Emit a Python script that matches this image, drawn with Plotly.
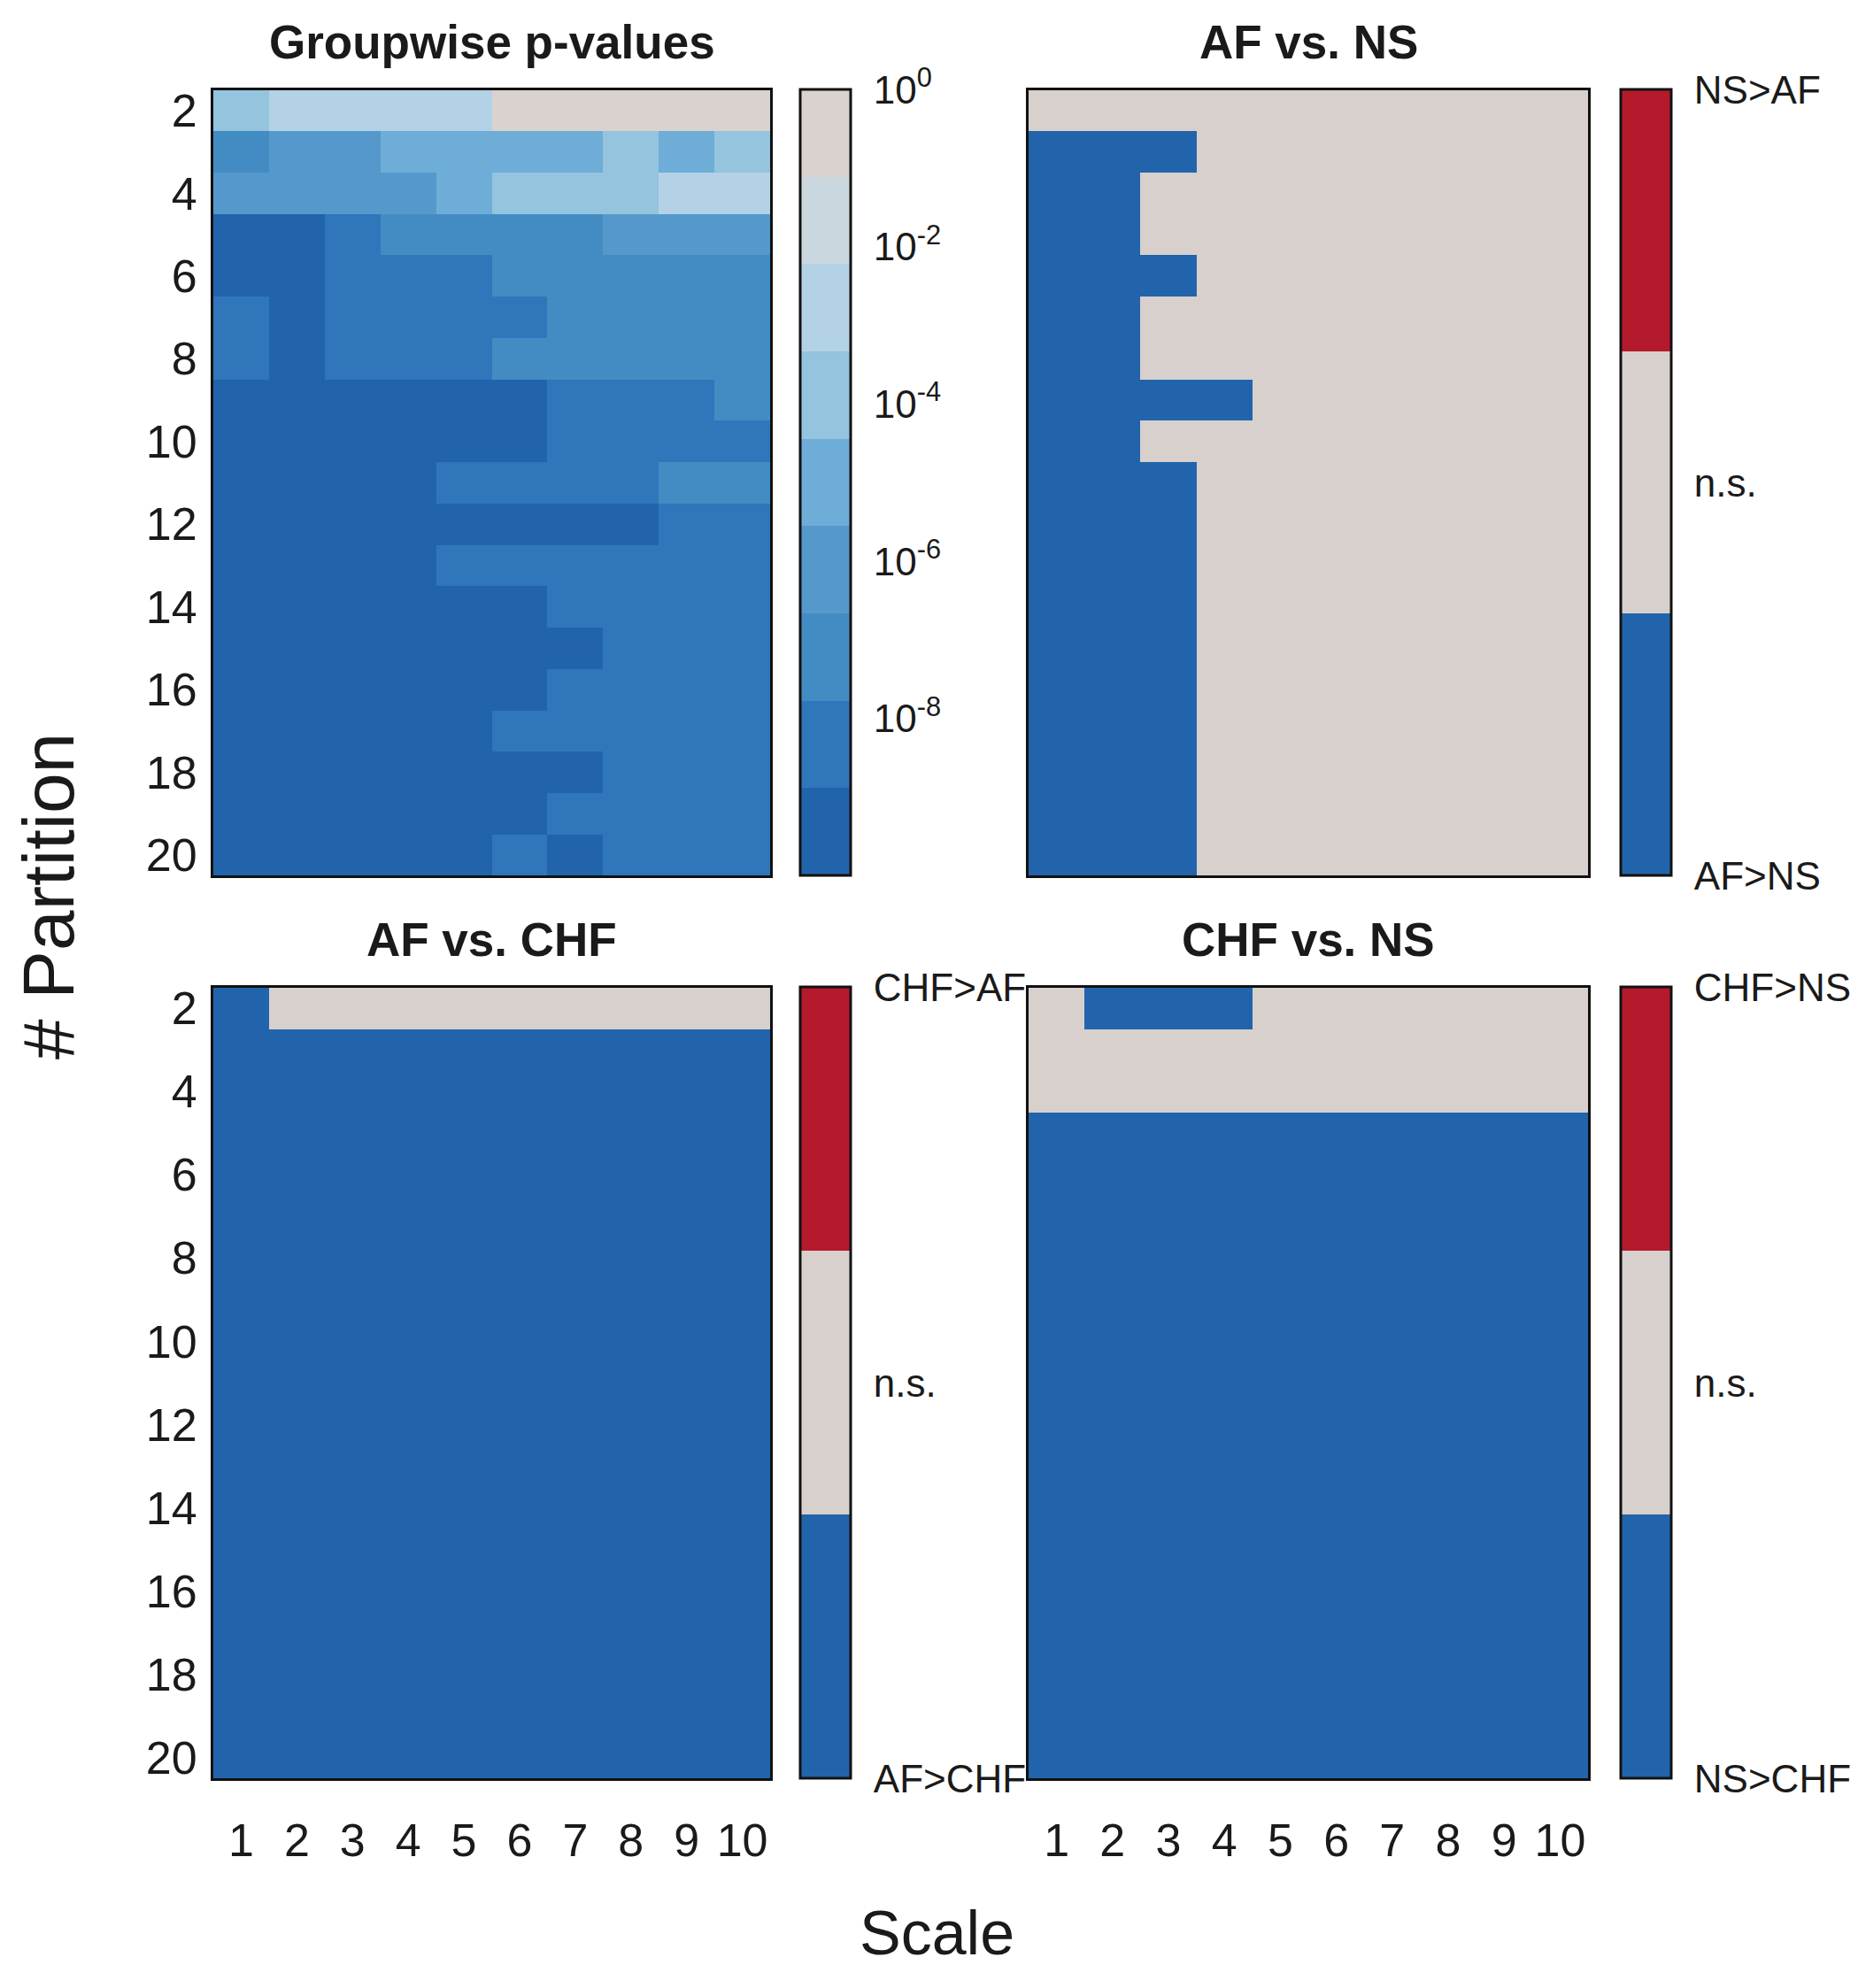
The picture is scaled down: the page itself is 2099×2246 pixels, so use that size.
import plotly.graph_objects as go

W, H = 2099, 2246
FONT = "Liberation Sans, Arial, Helvetica, sans-serif"

scales = list(range(1, 11))
partitions = list(range(2, 21))

# log10 of groupwise p-values, rows = partitions 2..20
groupwise_log10p = [
    [-3.9, -2.8, -2.8, -2.8, -2.8, -0.5, -0.5, -0.5, -0.5, -0.5],
    [-7.2, -6.1, -6.1, -5.0, -5.0, -5.0, -5.0, -3.9, -5.0, -3.9],
    [-6.1, -6.1, -6.1, -6.1, -5.0, -3.9, -3.9, -3.9, -2.8, -2.8],
    [-9.5, -9.5, -8.3, -7.2, -7.2, -7.2, -7.2, -6.1, -6.1, -6.1],
    [-9.5, -9.5, -8.3, -8.3, -8.3, -7.2, -7.2, -7.2, -7.2, -7.2],
    [-8.3, -9.5, -8.3, -8.3, -8.3, -8.3, -7.2, -7.2, -7.2, -7.2],
    [-8.3, -9.5, -8.3, -8.3, -8.3, -7.2, -7.2, -7.2, -7.2, -7.2],
    [-9.5, -9.5, -9.5, -9.5, -9.5, -9.5, -8.3, -8.3, -8.3, -7.2],
    [-9.5, -9.5, -9.5, -9.5, -9.5, -9.5, -8.3, -8.3, -8.3, -8.3],
    [-9.5, -9.5, -9.5, -9.5, -8.3, -8.3, -8.3, -8.3, -7.2, -7.2],
    [-9.5, -9.5, -9.5, -9.5, -9.5, -9.5, -9.5, -9.5, -8.3, -8.3],
    [-9.5, -9.5, -9.5, -9.5, -8.3, -8.3, -8.3, -8.3, -8.3, -8.3],
    [-9.5, -9.5, -9.5, -9.5, -9.5, -9.5, -8.3, -8.3, -8.3, -8.3],
    [-9.5, -9.5, -9.5, -9.5, -9.5, -9.5, -9.5, -8.3, -8.3, -8.3],
    [-9.5, -9.5, -9.5, -9.5, -9.5, -9.5, -8.3, -8.3, -8.3, -8.3],
    [-9.5, -9.5, -9.5, -9.5, -9.5, -8.3, -8.3, -8.3, -8.3, -8.3],
    [-9.5, -9.5, -9.5, -9.5, -9.5, -9.5, -9.5, -8.3, -8.3, -8.3],
    [-9.5, -9.5, -9.5, -9.5, -9.5, -9.5, -8.3, -8.3, -8.3, -8.3],
    [-9.5, -9.5, -9.5, -9.5, -9.5, -8.3, -9.5, -8.3, -8.3, -8.3],
]

# pairwise comparisons: -1 = first group larger (blue), 0 = n.s., 1 = second group larger (red)
af_vs_ns = [
    [0, 0, 0, 0, 0, 0, 0, 0, 0, 0],
    [-1, -1, -1, 0, 0, 0, 0, 0, 0, 0],
    [-1, -1, 0, 0, 0, 0, 0, 0, 0, 0],
    [-1, -1, 0, 0, 0, 0, 0, 0, 0, 0],
    [-1, -1, -1, 0, 0, 0, 0, 0, 0, 0],
    [-1, -1, 0, 0, 0, 0, 0, 0, 0, 0],
    [-1, -1, 0, 0, 0, 0, 0, 0, 0, 0],
    [-1, -1, -1, -1, 0, 0, 0, 0, 0, 0],
    [-1, -1, 0, 0, 0, 0, 0, 0, 0, 0],
] + [[-1, -1, -1, 0, 0, 0, 0, 0, 0, 0] for _ in range(10)]

af_vs_chf = [[-1, 0, 0, 0, 0, 0, 0, 0, 0, 0]] + [[-1] * 10 for _ in range(18)]

chf_vs_ns = [
    [0, -1, -1, -1, 0, 0, 0, 0, 0, 0],
    [0] * 10,
    [0] * 10,
] + [[-1] * 10 for _ in range(16)]

p_ticks = [0, -2, -4, -6, -8]
p_ticktext = ["10<sup>0</sup>", "10<sup>-2</sup>", "10<sup>-4</sup>", "10<sup>-6</sup>", "10<sup>-8</sup>"]

panel_titles = ["Groupwise p-values", "AF vs. NS", "AF vs. CHF", "CHF vs. NS"]
cb_labels = [None, ["NS>AF", "n.s.", "AF>NS"], ["CHF>AF", "n.s.", "AF>CHF"], ["CHF>NS", "n.s.", "NS>CHF"]]

# colours
p_colors = ["#2164ab", "#2f77ba", "#438cc3", "#5599cc", "#6eadd8",
            "#94c4de", "#b4d2e6", "#cbd7df", "#d9d2cf"]
BLUE, GRAY, RED = "#2164ab", "#d8d0cd", "#b41a2c"


def discrete(colors):
    n = len(colors)
    cs = []
    for i, c in enumerate(colors):
        cs.append([i / n, c])
        cs.append([(i + 1) / n, c])
    return cs


p_scale = discrete(p_colors)
cmp_scale = discrete([BLUE, GRAY, RED])

# layout geometry (pixels)
XL = (241, 870)
XR = (1162, 1794)
YT = (97, 989)
YB = (1116, 2014)
CBL = 904
CBR = 1831


def dx(a, b):
    return [a / W, b / W]


def dy(a, b):
    return [1 - b / H, 1 - a / H]


panels = [
    (XL, YT, CBL, groupwise_log10p),
    (XR, YT, CBR, af_vs_ns),
    (XL, YB, CBL, af_vs_chf),
    (XR, YB, CBR, chf_vs_ns),
]

fig = go.Figure()
layout = dict(
    width=W, height=H, autosize=False,
    margin=dict(l=0, r=0, t=0, b=0, pad=0),
    paper_bgcolor="white", plot_bgcolor="white",
    showlegend=False,
    annotations=[],
)

tickfont = dict(family=FONT, size=52, color="#1a1a1a")
cbfont = dict(family=FONT, size=44, color="#1a1a1a")

for i, (xr, yr, cbx, z) in enumerate(panels):
    k = i + 1
    xa = "x" if k == 1 else f"x{k}"
    ya = "y" if k == 1 else f"y{k}"
    cb = dict(
        x=cbx / W, xanchor="left",
        y=1 - (yr[0] + yr[1]) / 2 / H, yanchor="middle",
        len=(yr[1] - yr[0]) / H, lenmode="fraction",
        thickness=57, thicknessmode="pixels",
        outlinewidth=3, outlinecolor="#111111",
        xpad=0, ypad=0,
        ticks="outside", ticklen=16, tickcolor="rgba(0,0,0,0)",
        tickfont=cbfont,
    )
    if i == 0:
        cb.update(tickvals=p_ticks, ticktext=p_ticktext)
        tr = go.Heatmap(z=z, x=scales, y=partitions, colorscale=p_scale,
                        zmin=-10, zmax=0, colorbar=cb, xaxis=xa, yaxis=ya,
                        hoverinfo="skip")
    else:
        cb.update(tickvals=[1, 0, -1], ticktext=cb_labels[i])
        tr = go.Heatmap(z=z, x=scales, y=partitions, colorscale=cmp_scale,
                        zmin=-1, zmax=1, colorbar=cb, xaxis=xa, yaxis=ya,
                        hoverinfo="skip")
    fig.add_trace(tr)

    bottom = yr == YB
    left = xr == XL
    layout["xaxis" if k == 1 else f"xaxis{k}"] = dict(
        domain=dx(*xr), anchor=ya, range=[0.5, 10.5],
        tickvals=scales, showticklabels=bottom, ticks="",
        ticklabelstandoff=22,
        tickfont=tickfont, showgrid=False, zeroline=False,
        showline=True, mirror=True, linecolor="#111111", linewidth=3,
    )
    layout["yaxis" if k == 1 else f"yaxis{k}"] = dict(
        domain=dy(*yr), anchor=xa, range=[20.5, 1.5],
        tickvals=list(range(2, 21, 2)), showticklabels=left, ticks="",
        ticklabelstandoff=5,
        tickfont=tickfont, showgrid=False, zeroline=False,
        showline=True, mirror=True, linecolor="#111111", linewidth=3,
    )
    layout["annotations"].append(dict(
        text=f"<b>{panel_titles[i]}</b>", xref="paper", yref="paper",
        x=(xr[0] + xr[1]) / 2 / W, y=1 - (yr[0] - 54) / H,
        xanchor="center", yanchor="middle", showarrow=False,
        font=dict(family=FONT, size=53, color="#1a1a1a"),
    ))

layout["annotations"].append(dict(
    text="# Partition", xref="paper", yref="paper",
    x=54 / W, y=1 - 1013 / H, xanchor="center", yanchor="middle",
    textangle=-90, showarrow=False,
    font=dict(family=FONT, size=82, color="#1a1a1a"),
))
layout["annotations"].append(dict(
    text="Scale", xref="paper", yref="paper",
    x=1058 / W, y=1 - 2190 / H, xanchor="center", yanchor="middle",
    showarrow=False,
    font=dict(family=FONT, size=70, color="#1a1a1a"),
))

fig.update_layout(**layout)
fig.write_html(
    "out.html",
    config={"displayModeBar": False, "responsive": False},
    post_script=("document.documentElement.style.margin='0px';"
                 "document.body.style.margin='0px';"
                 "document.body.style.overflow='hidden';"
                 "document.documentElement.style.overflow='hidden';"),
)
